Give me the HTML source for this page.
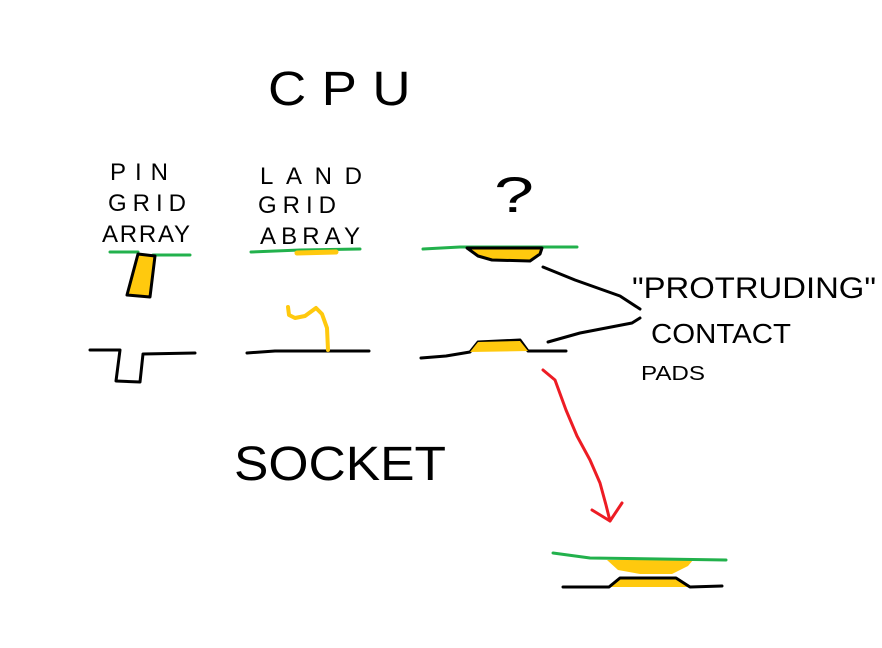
<!DOCTYPE html>
<html><head><meta charset="utf-8"><style>
html,body{margin:0;padding:0;background:#fff;}
svg{display:block;}
text{font-family:"Liberation Sans",sans-serif;fill:#000;}
</style></head><body>
<svg width="882" height="648" viewBox="0 0 882 648" xmlns="http://www.w3.org/2000/svg">
<rect width="882" height="648" fill="#fff"/>
<g fill="none" stroke-linecap="round" stroke-linejoin="round">
<!-- Texts -->
</g>
<text x="268" y="105" font-size="48" letter-spacing="14" textLength="158" lengthAdjust="spacingAndGlyphs">CPU</text>
<g font-size="24" lengthAdjust="spacingAndGlyphs">
<text x="110" y="180" textLength="58">PIN</text>
<text x="108" y="211" textLength="78">GRID</text>
<text x="102" y="242" textLength="88">ARRAY</text>
<text x="260" y="184" textLength="102">LAND</text>
<text x="258" y="213" textLength="78">GRID</text>
<text x="260" y="244" textLength="100">ABRAY</text>
</g>
<text x="494" y="212" font-size="50" textLength="40" lengthAdjust="spacingAndGlyphs">?</text>
<text x="632" y="298" font-size="30" textLength="244" lengthAdjust="spacingAndGlyphs">"PROTRUDING"</text>
<text x="651" y="343" font-size="28" textLength="140" lengthAdjust="spacingAndGlyphs">CONTACT</text>
<text x="641" y="380" font-size="20" textLength="64" lengthAdjust="spacingAndGlyphs">PADS</text>
<text x="234" y="480" font-size="48" textLength="212" lengthAdjust="spacingAndGlyphs">SOCKET</text>

<g fill="none" stroke-linecap="round" stroke-linejoin="round" stroke-width="3">
<!-- PGA -->
<path d="M110 252 L138 252 M153 255 L190 255" stroke="#22b14c"/>
<path d="M138 254 L155 256 L150 297 L127 295 Z" fill="#ffc90e" stroke="#000"/>
<path d="M90 350 L120 350 L116 381 L140 382 L143 354 L195 353" stroke="#000"/>
<!-- LGA -->
<path d="M251 252 L300 250 L360 249" stroke="#22b14c"/>
<path d="M297 253 L336 252" stroke="#ffc90e" stroke-width="5"/>
<path d="M247 353 L275 351 L369 351" stroke="#000"/>
<path d="M328 350 L327 328 L322 314 L316 308 L305 316 L295 318 L289 315 L288 307" stroke="#ffc90e" stroke-width="4"/>
<!-- ? -->
<path d="M423 249 L460 247 L577 247" stroke="#22b14c"/>
<path d="M467 248 L478 256 L492 260 L530 261 L540 254 L542 248 Z" fill="#ffc90e" stroke="#000"/>
<path d="M421 358 L446 356 L470 352 L478 342 L520 340 L528 351 L566 351" stroke="#000"/>
<path d="M470 352 L528 351 L520 341 L478 342 Z" fill="#ffc90e" stroke="none"/>
<path d="M543 267 L575 280 L620 296 L640 309" stroke="#000"/>
<path d="M548 342 L580 333 L632 323 L640 318" stroke="#000"/>
<!-- red arrow -->
<path d="M543 370 L555 380 L566 410 L577 436 L590 460 L600 483 L606 505 L610 521" stroke="#ed1c24"/>
<path d="M592 510 L610 521 L622 503" stroke="#ed1c24"/>
<!-- bottom -->
<path d="M607 560 L618 570 L640 574 L672 574 L688 566 L693 560 Z" fill="#ffc90e" stroke="none"/>
<path d="M553 553 L590 558 L726 560" stroke="#22b14c"/>
<path d="M609 587 L620 578 L676 578 L690 587 Z" fill="#ffc90e" stroke="none"/>
<path d="M563 587 L609 587 L620 578 L676 578 L690 587 L722 586" stroke="#000"/>
</g>
</svg>
</body></html>
